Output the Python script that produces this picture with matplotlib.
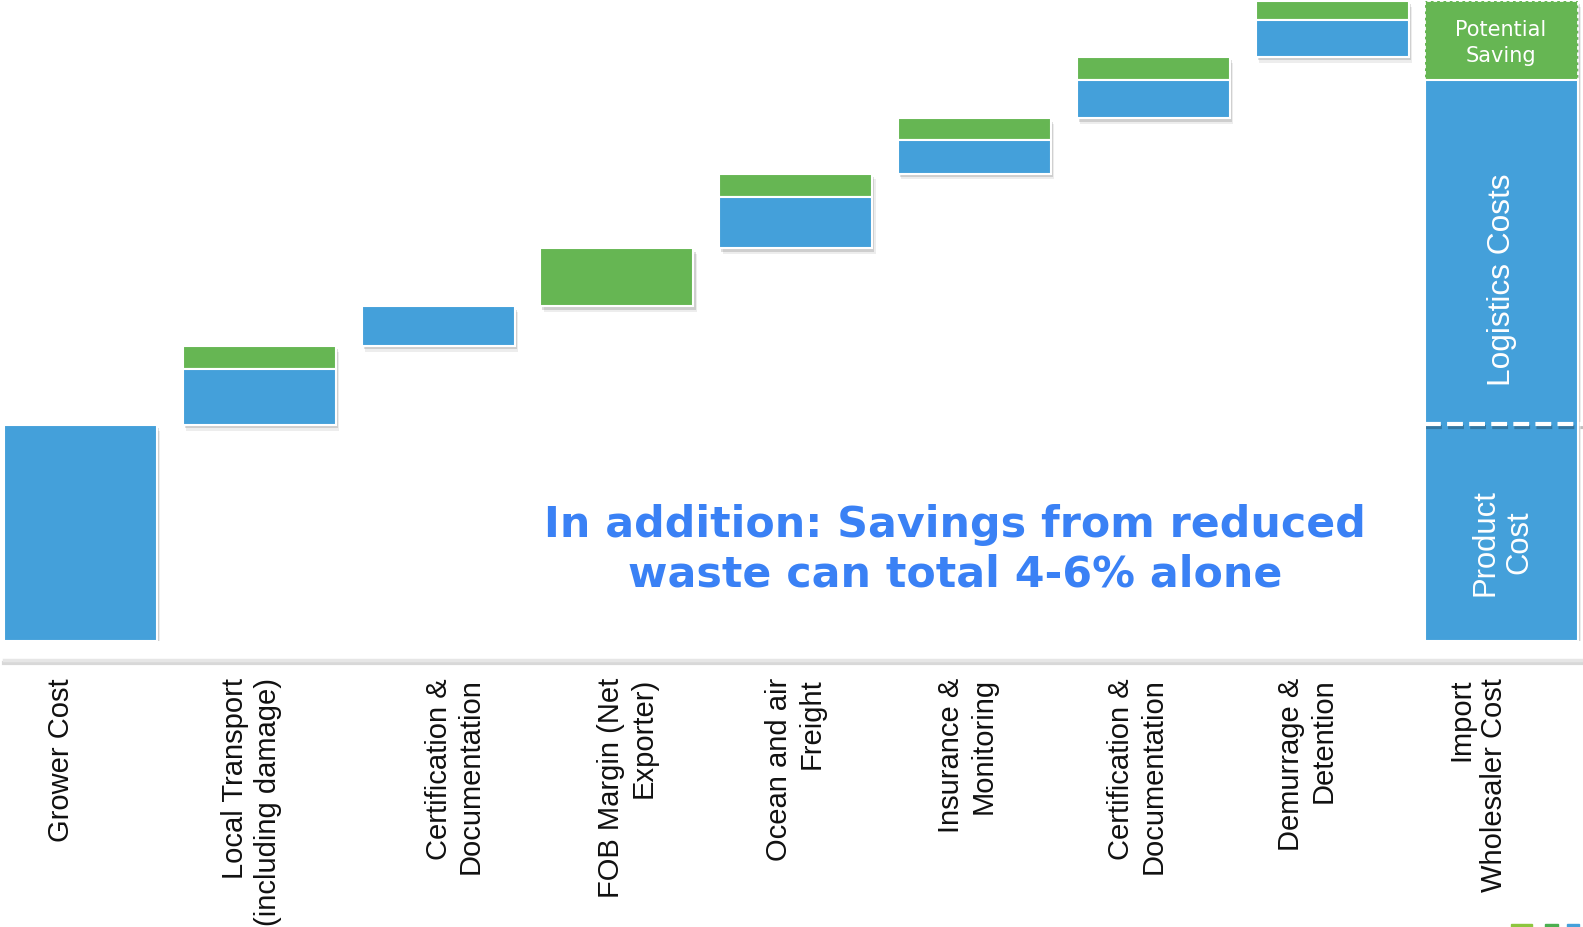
import matplotlib
matplotlib.use("Agg")
import matplotlib.pyplot as plt
import matplotlib.patheffects as pe
from matplotlib.lines import Line2D
from matplotlib.patches import Rectangle
import numpy as np

# ---------------- data ----------------
start_label = "Grower Cost"
start_value = 33.75
step_labels = [
    "Local Transport\n(including damage)",
    "Certification &\nDocumentation",
    "FOB Margin (Net\nExporter)",
    "Ocean and air\nFreight",
    "Insurance &\nMonitoring",
    "Certification &\nDocumentation",
    "Demurrage &\nDetention",
]
step_blue = [8.75, 6.2, 0.0, 8.0, 5.3, 6.0, 5.75]
step_green = [3.6, 0.0, 9.1, 3.6, 3.4, 3.55, 3.0]
end_label = "Import\nWholesaler Cost"
end_product = 33.9
end_logistics = 53.8
end_saving = 12.3

# ---------------- style ----------------
BLUE = "#44A0DA"
GREEN = "#66B653"
TXT_BLUE = "#3A81F5"
W, H, DPI = 1583, 928, 100

fig = plt.figure(figsize=(W / DPI, H / DPI), dpi=DPI)
fig.patch.set_facecolor("white")
px_unit = 178.8
x0_px = 80.5
bot_px, top_px = 642, 2
ax = fig.add_axes([0, (H - bot_px) / H, 1, (bot_px - top_px) / H])
ax.set_xlim(-x0_px / px_unit, (W - x0_px) / px_unit)
ax.set_ylim(0, 100)
for s in ax.spines.values():
    s.set_visible(False)
ax.set_yticks([])

n_steps = len(step_labels)
positions = list(range(n_steps + 1)) + [n_steps + 0.945]
label_offsets = [-0.111, -0.044, 0.093, 0.057, -0.001, -0.041, -0.090, -0.138, -0.131]
width = 0.856

shadow = [pe.SimplePatchShadow(offset=(2.5, -4), shadow_rgbFace="#000000", alpha=0.07),
          pe.SimplePatchShadow(offset=(1.5, -2.5), shadow_rgbFace="#000000", alpha=0.13),
          pe.Normal()]
edge_kw = dict(edgecolor="white", linewidth=1.5)

# start bar
b = ax.bar(positions[0], start_value, width=width, color=BLUE, **edge_kw)
for p in b:
    p.set_path_effects(shadow)

# steps
running = start_value
for i in range(n_steps):
    x = positions[i + 1]
    bl, gr = step_blue[i], step_green[i]
    if gr > 0:
        g = ax.bar(x, gr, bottom=running + bl, width=width, color=GREEN, **edge_kw)
        for p in g:
            p.set_path_effects(shadow)
    if bl > 0:
        bb = ax.bar(x, bl, bottom=running, width=width, color=BLUE, **edge_kw)
        for p in bb:
            p.set_path_effects(shadow)
    running += bl + gr

# end bar
xe = positions[-1]
g = ax.bar(xe, end_saving, bottom=end_product + end_logistics, width=width, color=GREEN,
           edgecolor="white", linewidth=1.3, linestyle=(0, (2.0, 1.5)))
for p in g:
    p.set_path_effects(shadow)
bb = ax.bar(xe, end_product + end_logistics, width=width, color=BLUE, **edge_kw)
for p in bb:
    p.set_path_effects(shadow)
ax.plot([xe - width / 2, xe + width / 2 + 0.04], [end_product, end_product], color="white",
        lw=3, dashes=(3.8, 1.5), solid_capstyle="butt",
        path_effects=[pe.SimpleLineShadow(offset=(1, -2), shadow_color="black", alpha=0.25), pe.Normal()])

ax.text(xe, 93.6, "Potential\nSaving", color="white", fontsize=15, ha="center", va="center",
        family="DejaVu Sans", linespacing=1.35)
ax.text(xe + 0.005, 56.6, "Logistics Costs", color="white", fontsize=22.8, rotation=90,
        ha="center", va="center", family="Liberation Sans")
ax.text(xe + 0.008, 15.6, "Product\nCost", color="white", fontsize=22.3, rotation=90,
        ha="center", va="center", family="Liberation Sans", multialignment="center",
        linespacing=1.15)

ax.text(4.891, 14.4, "In addition: Savings from reduced\nwaste can total 4-6% alone",
        color=TXT_BLUE, fontsize=30.8, fontweight="bold", ha="center", va="center",
        family="DejaVu Sans", linespacing=1.22)

# category labels
all_labels = [start_label] + step_labels + [end_label]
label_x = [p + o for p, o in zip(positions, label_offsets)]
ax.set_xticks(label_x)
ax.set_xticklabels(all_labels, rotation=90, fontsize=21, ha="center", va="top",
                   multialignment="right", family="Liberation Sans", linespacing=1.2)
ax.tick_params(axis="x", length=0, pad=26, colors="#111111")

# baseline rule
yl = 1 - 661 / H
fig.add_artist(Line2D([4 / W, 1], [yl - 3 / H, yl - 3 / H], color="#b8b8b8", lw=3, alpha=0.55))
fig.add_artist(Line2D([4 / W, 1], [yl, yl], color="#e6e6e6", lw=2.5))

# cropped logo fragments at bottom-right
for x0, x1, c in [(1511, 1532, "#8DC63F"), (1545, 1558, "#4CAF50"), (1567, 1579, "#44A0DA")]:
    fig.add_artist(Rectangle((x0 / W, 0), (x1 - x0) / W, 3 / H, color=c, transform=fig.transFigure))

fig.savefig("out.png", dpi=DPI, facecolor="white")
